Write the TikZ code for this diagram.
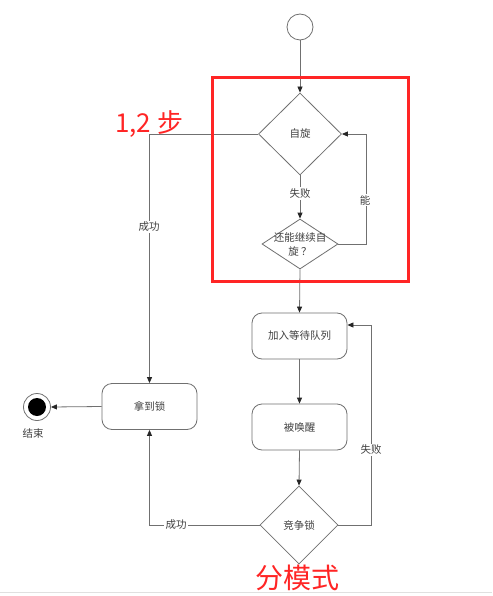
\documentclass[tikz,border=0pt]{standalone}
\usepackage{fontspec}
\setmainfont{Noto Sans CJK SC}
\usetikzlibrary{shapes.geometric,arrows.meta,positioning,calc}
\definecolor{lnc}{HTML}{707070}
\definecolor{txc}{HTML}{404040}
\definecolor{redc}{HTML}{FF2525}
\definecolor{arc}{HTML}{262626}
\tikzset{
  dia/.style={diamond,draw=lnc,line width=0.8pt,inner sep=0pt,fill=white},
  stbox/.style={rectangle,rounded corners=10pt,draw=lnc,line width=0.8pt,minimum width=95pt,minimum height=46pt,inner sep=0pt,fill=white},
  txt/.style={text=txc,font=\fontsize{10.5pt}{14pt}\selectfont,inner sep=1pt},
  lbl/.style={txt,fill=white,inner sep=1.5pt},
  conn/.style={draw=lnc,line width=0.8pt},
  arr/.style={conn,-{Triangle[length=6pt,width=5pt,color=arc]}},
  bigred/.style={text=redc,inner sep=0pt}
}
\begin{document}
\begin{tikzpicture}[x=1pt,y=-1pt]
\useasboundingbox (0,0) rectangle (492,596);
\fill[white] (0,0) rectangle (492,596);
\draw[black!12,line width=0.8pt] (0,592) -- (492,592);

% nodes
\node[circle,draw=lnc,line width=0.8pt,minimum size=26pt,inner sep=0pt] (start) at (300,27) {};
\node[dia,minimum width=83pt,minimum height=82pt] (d1) at (300,134) {};
\node[txt] (d1t) at (d1) {自旋};
\node[dia,minimum width=76pt,minimum height=50pt] (d2) at (300,244) {};
\node[txt,align=center] (d2t) at (d2) {还能继续自\\旋 ？};
\node[stbox] (q) at (299.5,336) {};
\node[txt] (qt) at (q) {加入等待队列};
\node[stbox] (w) at (299.5,427) {};
\node[txt] (wt) at (w) {被唤醒};
\node[stbox] (g) at (149.5,406.5) {};
\node[txt] (gt) at (g) {拿到锁};
\node[dia,minimum width=78pt,minimum height=78pt] (d3) at (299,525) {};
\node[txt] (d3t) at (d3) {竞争锁};
\node[circle,draw=lnc,line width=0.8pt,minimum size=27pt,inner sep=0pt] (end) at (37,407) {};
\node[circle,fill=black,minimum size=18pt,inner sep=0pt] (endin) at (end) {};
\node[txt] (endt) at (33,433) {结束};

% connectors
\draw[arr] (start) -- (d1.north);
\draw[arr] (d1.south) -- (d2.north) node[lbl,pos=0.42] (l1) {失败};
\draw[arr] (d2.east) -- ++(28,0) coordinate (c1) |- (d1.east);
\node[lbl] (l2) at (365,200) {能};
\draw[arr] (d1.west) -| (g.north);
\node[lbl] (l3) at (149,227) {成功};
\draw[arr] (d2.south) -- (q.north);
\draw[arr] (q.south) -- (w.north);
\draw[arr] (w.south) -- (d3.north);
\draw[arr] (d3.west) -| (g.south);
\node[lbl] (l4) at (176,525) {成功};
\coordinate (qin) at ([yshift=11pt]q.east);
\draw[arr] (d3.east) -- ++(33,0) coordinate (c2) |- (qin);
\node[lbl] (l5) at (371,450) {失败};
\draw[arr] (g.west) -- (end.east);

% red annotations
\draw[redc,line width=3pt] (212,78) rectangle (408,281);
\node[bigred,anchor=west,font=\fontsize{26pt}{30pt}\selectfont] (r1) at (115,124) {1,2 步};
\node[bigred,font=\fontsize{28pt}{32pt}\selectfont] (r2) at (297,578) {分模式};
\end{tikzpicture}
\end{document}
